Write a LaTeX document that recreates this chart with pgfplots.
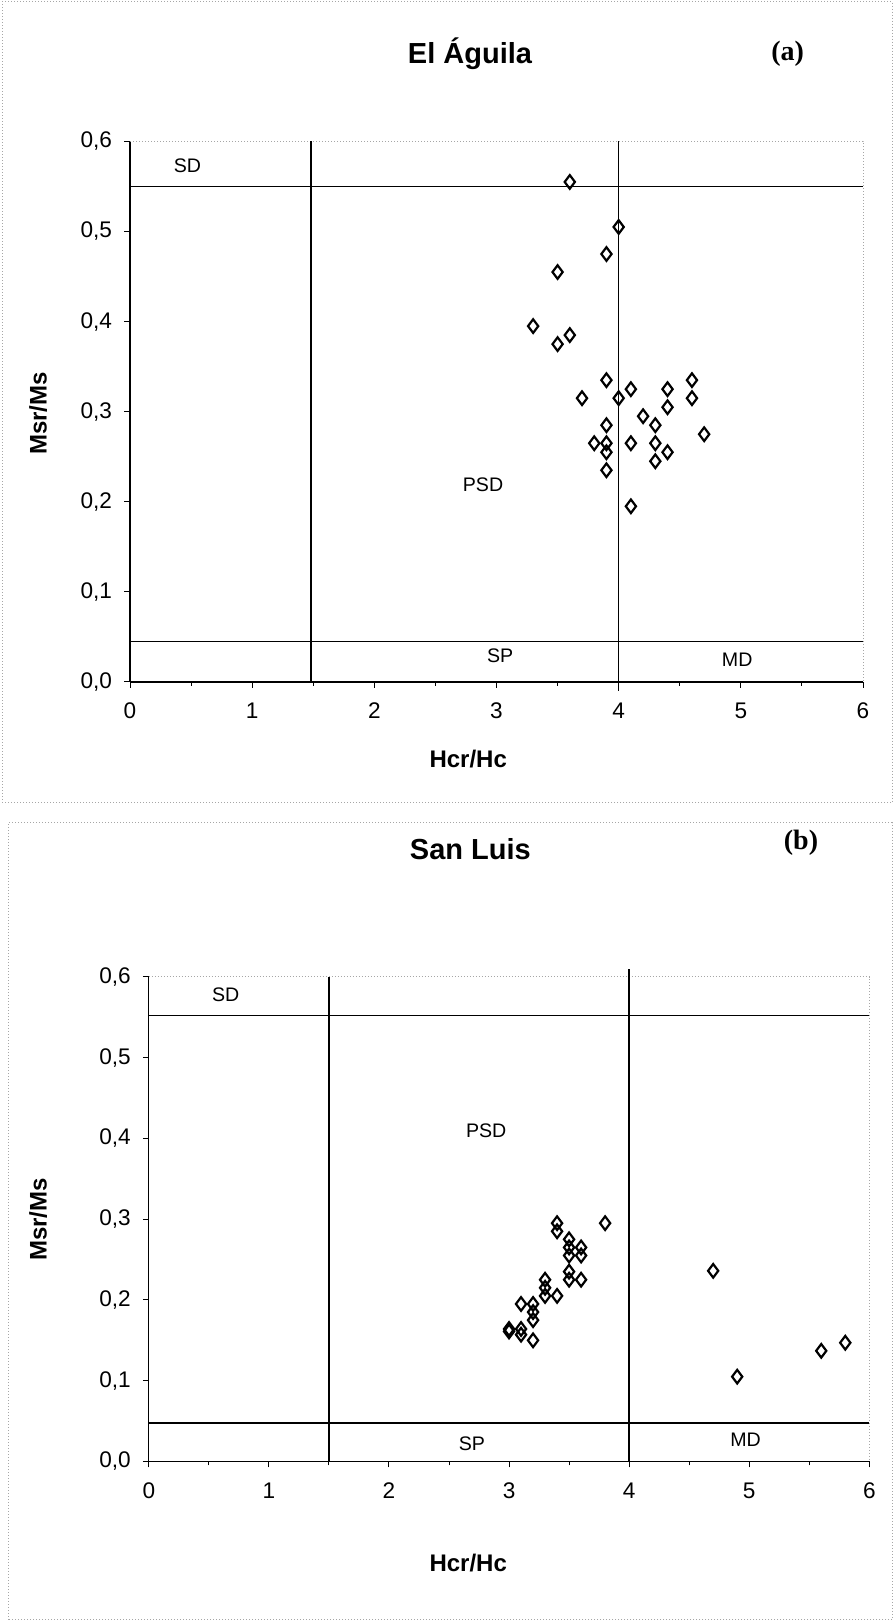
\documentclass[border=0pt]{standalone}
\usepackage{pgfplots}
\pgfplotsset{compat=1.18}
\usepackage{fontspec}
\setmainfont{Liberation Sans}
\newfontfamily\serifb{Liberation Serif}
\tikzset{region/.style={font=\fontsize{9.8}{11}\selectfont}}
\begin{document}
\begin{tikzpicture}
\useasboundingbox (0pt,0pt) rectangle (446.5pt,810.5pt);
\fill[white] (0pt,0pt) rectangle (446.5pt,810.5pt);
% outer frames of the two panels
\draw[gray!70, densely dotted, line width=0.5pt] (1pt,409pt) rectangle (446pt,809.5pt);
\draw[gray!70, densely dotted, line width=0.5pt] (4pt,0.5pt) rectangle (446pt,399pt);

\pgfplotsset{
  dayplot/.style={
    scale only axis,
    xmin=0, xmax=6, ymin=0, ymax=0.6,
    axis x line*=bottom, axis y line*=left,
    axis line style={black, line width=0.6pt},
    xtick={0,1,2,3,4,5,6},
    ytick={0,0.1,0.2,0.3,0.4,0.5,0.6},
    yticklabels={{0,0},{0,1},{0,2},{0,3},{0,4},{0,5},{0,6}},
    minor x tick num=1,
    tick align=outside,
    major tick length=3pt, minor tick length=2pt,
    tick style={black, line width=0.5pt},
    /pgf/number format/assume math mode=true,
    ticklabel style={font=\fontsize{11.3}{12}\selectfont},
    xticklabel style={yshift=-4pt},
    yticklabel style={xshift=-2.5pt},
    clip=false,
  },
  ref/.style={black, line width=0.8pt, no marks, forget plot},
  pts/.style={only marks, mark=diamond, mark size=3.4pt, mark options={black, line width=1.1pt, fill=white}},
}

% ---------------- Panel (a): El Aguila ----------------
\begin{axis}[dayplot, at={(65pt,469.5pt)}, anchor=south west, width=366.5pt, height=270.3pt]
\draw[gray!70, densely dotted, line width=0.5pt] (rel axis cs:0,1) -- (rel axis cs:1,1) -- (rel axis cs:1,0);
\addplot[ref] coordinates {(0,0.55) (6,0.55)};
\addplot[ref] coordinates {(0,0.045) (6,0.045)};
\addplot[ref] coordinates {(1.48,0) (1.48,0.6)};
\addplot[ref] coordinates {(4,-0.01) (4,0.6)};
\addplot[pts] coordinates {
(3.6,0.555) (4.0,0.505) (3.9,0.475) (3.5,0.455) (3.3,0.395) (3.5,0.375)
(3.6,0.385) (3.9,0.335) (3.7,0.315) (4.0,0.315) (4.1,0.325) (4.4,0.325)
(4.6,0.335) (4.6,0.315) (4.4,0.305) (4.2,0.295) (4.3,0.285) (3.9,0.285)
(4.7,0.275) (3.8,0.265) (3.9,0.265) (4.1,0.265) (4.3,0.265) (3.9,0.255)
(4.4,0.255) (4.3,0.245) (3.9,0.235) (4.1,0.195)
};
\node[region] at (axis cs:0.47,0.573) {SD};
\node[region] at (axis cs:2.89,0.219) {PSD};
\node[region] at (axis cs:3.03,0.029) {SP};
\node[region] at (axis cs:4.97,0.025) {MD};
\end{axis}

% ---------------- Panel (b): San Luis ----------------
\begin{axis}[dayplot, at={(74.4pt,79.75pt)}, anchor=south west, width=360.25pt, height=242.35pt]
\draw[gray!70, densely dotted, line width=0.5pt] (rel axis cs:0,1) -- (rel axis cs:1,1) -- (rel axis cs:1,0);
\addplot[ref] coordinates {(0,0.552) (6,0.552)};
\addplot[ref] coordinates {(0,0.048) (6,0.048)};
\addplot[ref] coordinates {(1.5,0) (1.5,0.6)};
\addplot[ref] coordinates {(4,0) (4,0.61)};
\addplot[pts] coordinates {
(3.8,0.295) (3.4,0.295) (3.4,0.285) (3.5,0.275) (3.5,0.265) (3.6,0.265)
(3.5,0.255) (3.6,0.255) (3.5,0.235) (3.5,0.225) (3.6,0.225) (3.3,0.225)
(3.3,0.215) (3.3,0.205) (3.4,0.205) (3.1,0.195) (3.2,0.195) (3.2,0.185)
(3.2,0.175) (3.0,0.164) (3.0,0.161) (3.1,0.164) (3.1,0.157) (3.2,0.150)
(4.7,0.236) (4.9,0.105) (5.6,0.137) (5.8,0.147)
};
\node[region] at (axis cs:0.64,0.578) {SD};
\node[region] at (axis cs:2.81,0.41) {PSD};
\node[region] at (axis cs:2.69,0.022) {SP};
\node[region] at (axis cs:4.97,0.027) {MD};
\end{axis}

% titles and labels
\node[font=\fontsize{14.5}{16}\selectfont\bfseries] at (235pt,783.6pt) {El Águila};
\node[font=\fontsize{14}{16}\selectfont\serifb\bfseries] at (393.8pt,783.6pt) {(a)};
\node[font=\fontsize{14.5}{16}\selectfont\bfseries] at (235.2pt,385.7pt) {San Luis};
\node[font=\fontsize{14}{16}\selectfont\serifb\bfseries] at (400.5pt,389.3pt) {(b)};
\node[font=\fontsize{12}{14}\selectfont\bfseries, rotate=90] at (19.1pt,603.8pt) {Msr/Ms};
\node[font=\fontsize{12}{14}\selectfont\bfseries, rotate=90] at (19.1pt,200.7pt) {Msr/Ms};
\node[font=\fontsize{12}{14}\selectfont\bfseries] at (234.1pt,431.2pt) {Hcr/Hc};
\node[font=\fontsize{12}{14}\selectfont\bfseries] at (234.1pt,29.1pt) {Hcr/Hc};
\end{tikzpicture}
\end{document}
